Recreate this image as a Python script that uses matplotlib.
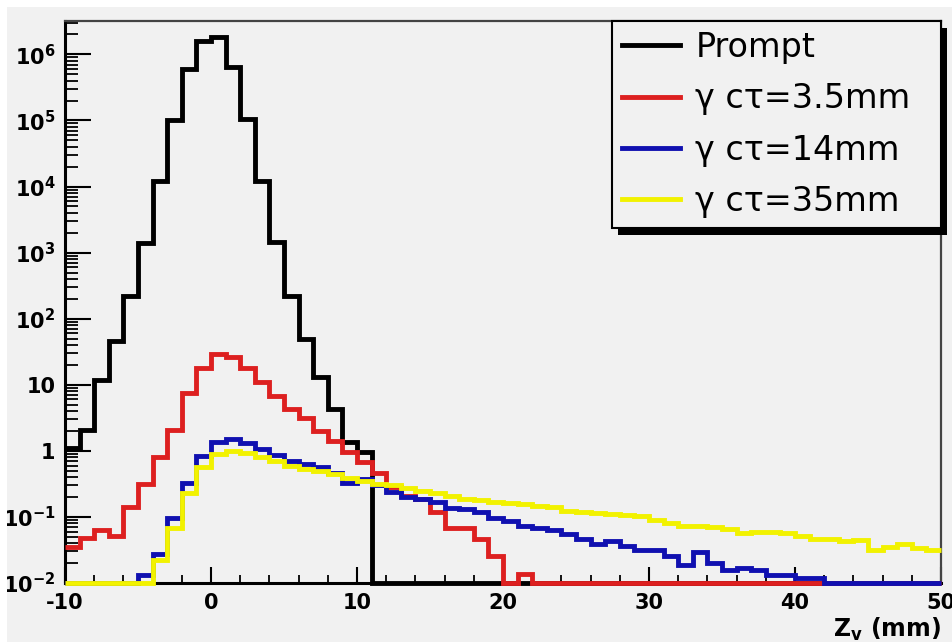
import numpy as np
import matplotlib
matplotlib.use("Agg")
import matplotlib.pyplot as plt
from matplotlib.ticker import MultipleLocator, LogLocator, FuncFormatter, NullFormatter
from matplotlib.patches import Rectangle

plt.rcParams['font.family'] = ['DejaVu Sans']
plt.rcParams['mathtext.fontset'] = 'dejavusans'
plt.rcParams['mathtext.default'] = 'bf'
plt.rcParams['axes.unicode_minus'] = False

# ---- data (1 mm bins from -10 to 50 mm) ----
bin_lo = -10
bin_hi = 50

prompt = [1.1, 2.1, 12, 46, 220, 1400, 1.2e4, 1.0e5, 6.0e5, 1.6e6,
          1.85e6, 6.5e5, 1.05e5, 1.2e4, 1450, 220, 50, 13, 4.3, 1.35,
          0.95] + [0] * 39

ct_3p5 = [0.035, 0.048, 0.063, 0.052, 0.14, 0.31, 0.81, 2.05, 7.6, 18,
          29, 26, 18, 11, 6.8, 4.3, 3.1, 2.0, 1.4, 0.97,
          0.67, 0.47, 0.28, 0.21, 0.19, 0.12, 0.067, 0.068, 0.046, 0.026,
          0, 0.0135] + [0] * 28

ct_14 = [0, 0, 0, 0, 0, 0.013, 0.027, 0.098, 0.33, 0.84,
         1.34, 1.5, 1.3, 1.07, 0.88, 0.71, 0.64, 0.56, 0.47, 0.33,
         0.37, 0.30, 0.235, 0.20, 0.185, 0.17, 0.135, 0.13, 0.117, 0.098,
         0.087, 0.073, 0.067, 0.063, 0.056, 0.046, 0.039, 0.043, 0.036, 0.032,
         0.032, 0.026, 0.019, 0.029, 0.020, 0.016, 0.017, 0.016, 0.013, 0.013,
         0.012, 0.012] + [0] * 8

ct_35 = [0, 0, 0, 0, 0, 0, 0.022, 0.069, 0.23, 0.56,
         0.89, 1.0, 0.92, 0.80, 0.70, 0.60, 0.54, 0.50, 0.44, 0.39,
         0.35, 0.32, 0.30, 0.27, 0.25, 0.23, 0.205, 0.19, 0.18, 0.17,
         0.16, 0.155, 0.147, 0.14, 0.125, 0.12, 0.115, 0.11, 0.108, 0.104,
         0.09, 0.08, 0.073, 0.072, 0.07, 0.065, 0.057, 0.06, 0.06, 0.057,
         0.052, 0.047, 0.047, 0.043, 0.045, 0.032, 0.035, 0.039, 0.034, 0.032]

labels = ['Prompt', 'γ cτ=3.5mm', 'γ cτ=14mm', 'γ cτ=35mm']
colors = ['black', '#dd2020', '#1010b0', '#f2f200']
series = [prompt, ct_3p5, ct_14, ct_35]

ymin, ymax = 0.01, 3.2e6
xticks_major = [-10, 0, 10, 20, 30, 40, 50]

bg = '#f1f1f1'
fig = plt.figure(figsize=(9.52, 6.42), dpi=100, facecolor=bg)
ax = fig.add_axes([65 / 952, 1 - 583 / 642, (941 - 65) / 952, (583 - 21) / 642])
ax.set_facecolor(bg)

edges = np.arange(bin_lo, bin_hi + 1)
for vals, col, lab in zip(series, colors, labels):
    v = np.maximum(np.asarray(vals, dtype=float), ymin)  # empty bins drawn on the frame bottom
    ax.stairs(v, edges, baseline=None, color=col, lw=3.5, label=lab,
              zorder=3, clip_on=False)

ax.set_yscale('log')
ax.set_ylim(ymin, ymax)
ax.set_xlim(bin_lo, bin_hi)

def yfmt(v, pos):
    e = int(round(np.log10(v)))
    if e == 0:
        return '1'
    if e == 1:
        return '10'
    return r'$\mathbf{10^{%d}}$' % e

ax.yaxis.set_major_locator(LogLocator(base=10, numticks=20))
ax.yaxis.set_minor_locator(LogLocator(base=10, subs=np.arange(2, 10), numticks=100))
ax.yaxis.set_major_formatter(FuncFormatter(yfmt))
ax.yaxis.set_minor_formatter(NullFormatter())
ax.set_xticks(xticks_major)
ax.xaxis.set_minor_locator(MultipleLocator(2))

ax.tick_params(axis='y', which='major', direction='in', length=19, width=1.5,
               labelsize=15, pad=7)
ax.tick_params(axis='y', which='minor', direction='in', length=9.5, width=1.3)
ax.tick_params(axis='x', which='major', direction='in', length=11.5, width=1.5,
               labelsize=15, pad=7)
ax.tick_params(axis='x', which='minor', direction='in', length=5.8, width=1.3)
for lab in ax.get_xticklabels() + ax.get_yticklabels():
    lab.set_fontweight('bold')

for s in ['left', 'bottom']:
    ax.spines[s].set_linewidth(2.2)
    ax.spines[s].set_color('black')
for s in ['top', 'right']:
    ax.spines[s].set_linewidth(1.6)
    ax.spines[s].set_color('#444444')

ax.set_xlabel(r'Z$_\mathbf{v}$ (mm)', fontsize=17, fontweight='bold', loc='right',
              labelpad=2)

ax_w = 876.0
leg = ax.legend(loc='upper right', bbox_to_anchor=(1 - 329 / ax_w, 0.0, 329 / ax_w, 1.0),
                mode='expand', borderaxespad=0,
                fontsize=24, frameon=True, fancybox=False, framealpha=1,
                facecolor=bg, edgecolor='black', handlelength=1.75,
                handletextpad=0.45, borderpad=0.3, labelspacing=0.55)
leg.get_frame().set_linewidth(1.5)
for line in leg.get_lines():
    line.set_linewidth(3.5)
leg.set_zorder(6)

fig.canvas.draw()
bb = leg.get_window_extent().transformed(ax.transAxes.inverted())
sx = 6 / ax.bbox.width
sy = 7 / ax.bbox.height
ax.add_patch(Rectangle((bb.x0 + sx, bb.y0 - sy), bb.width, bb.height,
                       transform=ax.transAxes, facecolor='black', edgecolor='none',
                       zorder=5.5, clip_on=False))

# white strip of the screenshot border
fig.patches.append(Rectangle((0, 1 - 7 / 642), 1, 7 / 642, transform=fig.transFigure,
                             facecolor='white', edgecolor='none', zorder=10))
fig.patches.append(Rectangle((0, 0), 7 / 952, 1, transform=fig.transFigure,
                             facecolor='white', edgecolor='none', zorder=10))

fig.savefig('out.png', dpi=100, facecolor=bg)
